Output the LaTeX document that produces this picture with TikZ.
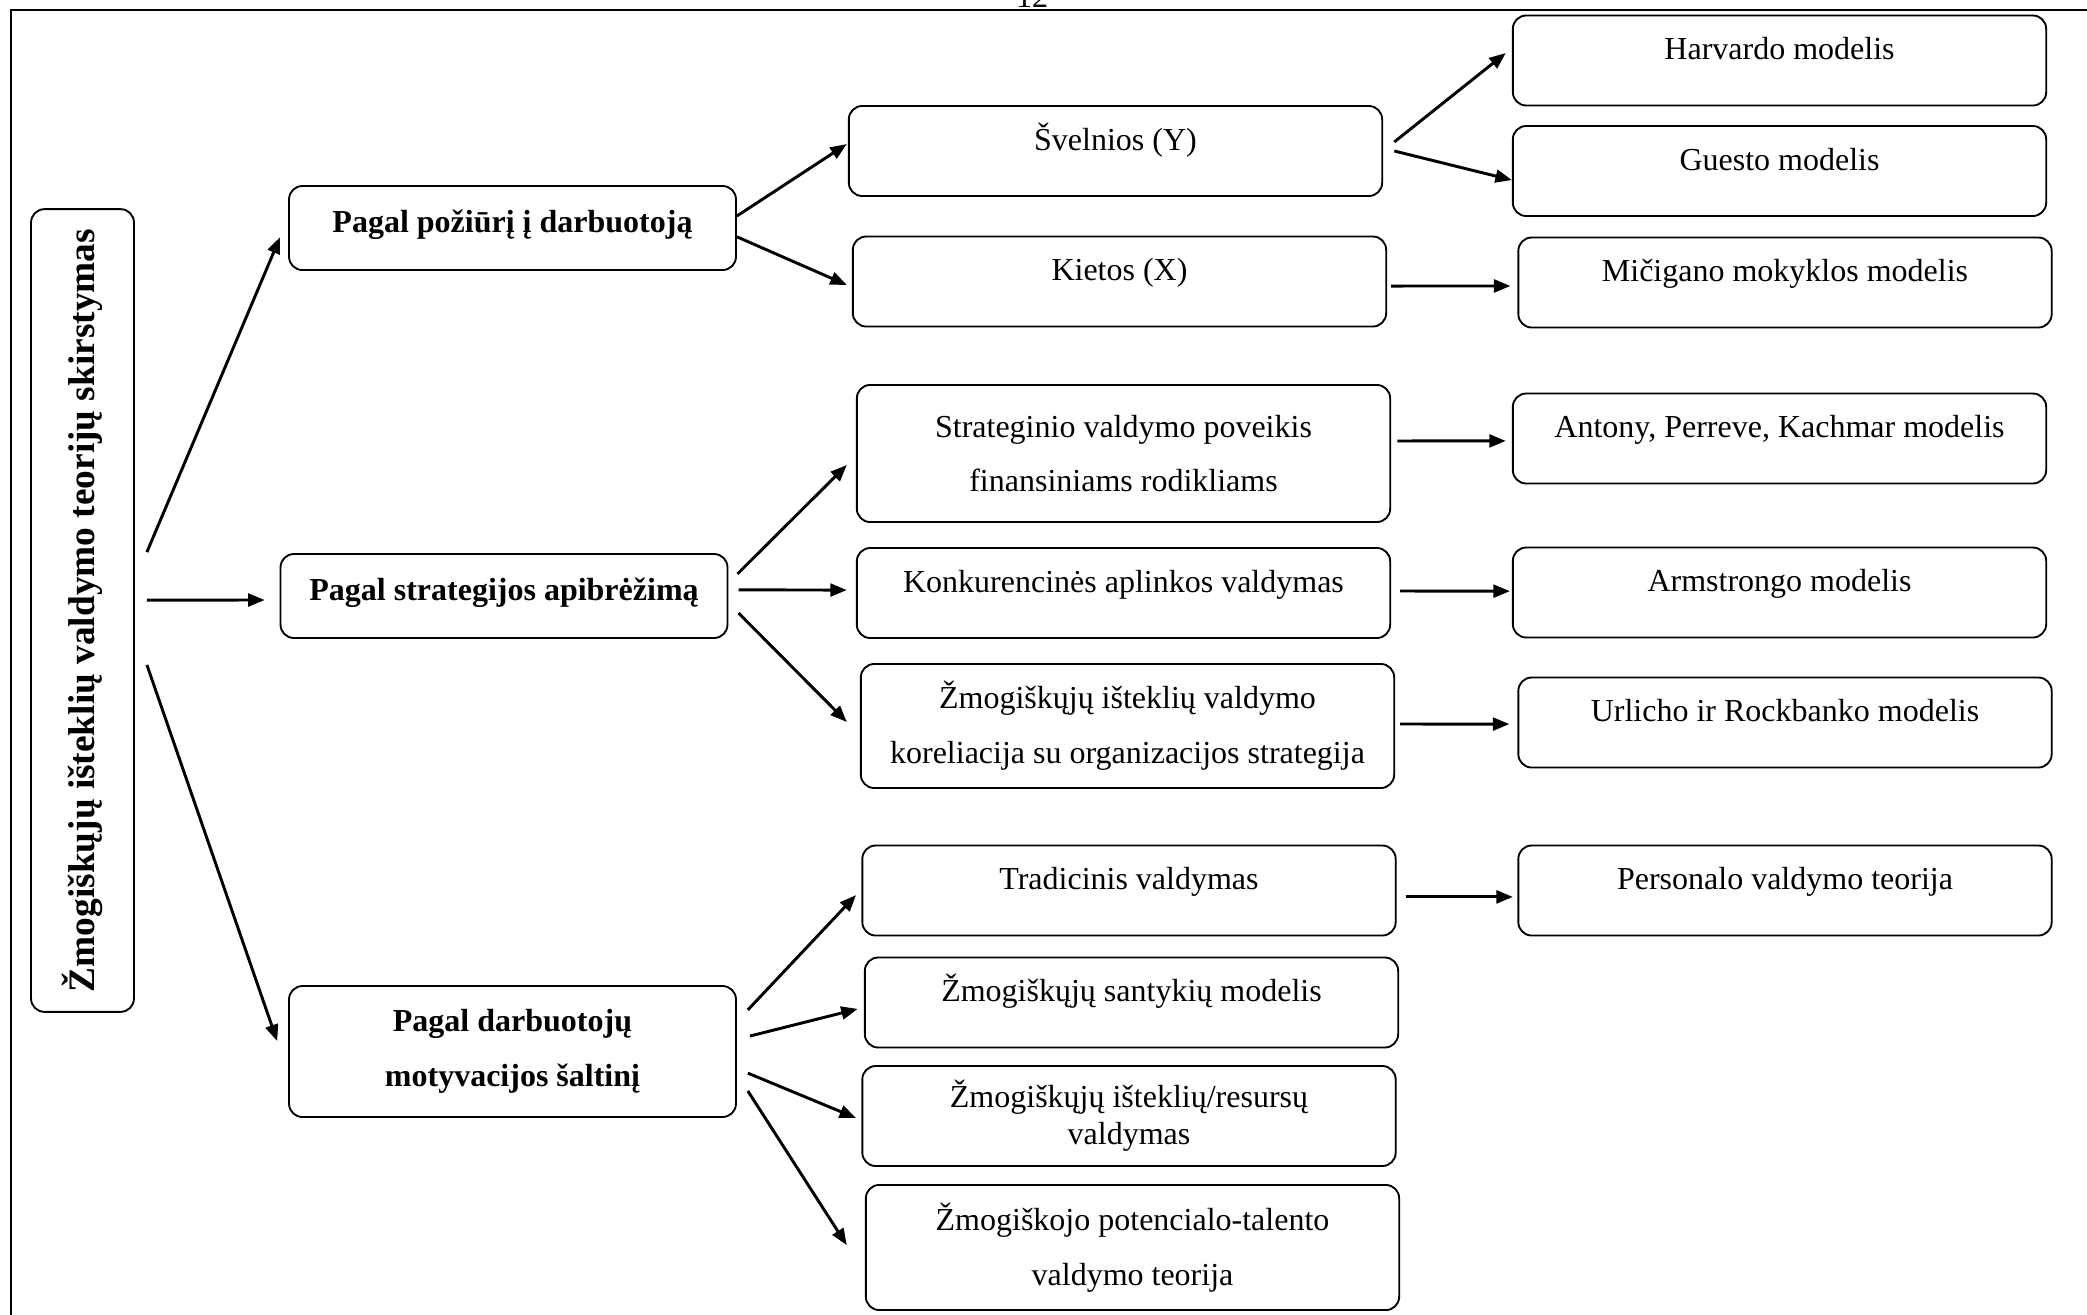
\documentclass[tikz,border=0pt]{standalone}
\usepackage{fontspec}
\setmainfont{Liberation Serif}
\usepackage{tikz}
\usetikzlibrary{arrows.meta}

\begin{document}
\begin{tikzpicture}[
  x=0.375pt, y=-0.375pt,
  box/.style={draw, line width=0.7pt, rounded corners=5pt, align=center, inner sep=2pt,
    font=\fontsize{12}{20.5}\selectfont},
  kind/.style={box, minimum width=167.6pt, font=\fontsize{12}{20.5}\selectfont\bfseries},
  item/.style={box, minimum width=200pt},
  oneline/.style={minimum height=33.75pt, text height=9pt, text depth=9.5pt},
  arrow/.style={-{Triangle[length=6.2pt,width=4.8pt]}, line width=1.1pt}
]
\useasboundingbox (0,0) rectangle (2087,1314);
\draw[line width=1pt] (11,1320) -- (11,10) -- (2095,10);
\node[anchor=base, font=\fontsize{12}{14}\selectfont] (page) at (1032,7) {12};

% root
\node[box, minimum width=38.6pt, minimum height=301pt, font=\fontsize{14}{17}\selectfont\bfseries]
  (root) at (82.5,610.5) {\rotatebox{90}{Žmogiškųjų išteklių valdymo teorijų skirstymas}};

% kinds
\node[kind, minimum height=31.5pt, text height=9pt, text depth=6pt] (poz) at (512.5,228) {Pagal požiūrį į darbuotoją};
\node[kind, minimum height=31.5pt, text height=9pt, text depth=6pt] (strg) at (504,596) {Pagal strategijos apibrėžimą};
\node[kind, minimum height=49.1pt] (darb) at (512.5,1051.5) {Pagal darbuotojų\\motyvacijos šaltinį};

% middle column
\node[item, oneline] (svel) at (1115.5,151) {Švelnios (Y)};
\node[item, oneline] (kiet) at (1119.5,281.5) {Kietos (X)};
\node[item, minimum height=51.4pt] (strat) at (1123.5,453.5) {Strateginio valdymo poveikis\\finansiniams rodikliams};
\node[item, oneline] (konk) at (1123.5,593) {Konkurencinės aplinkos valdymas};
\node[item, minimum height=46.5pt] (kor) at (1127.5,726) {Žmogiškųjų išteklių valdymo\\koreliacija su organizacijos strategija};
\node[item, oneline] (trad) at (1129,890.5) {Tradicinis valdymas};
\node[item, oneline] (sant) at (1131.5,1002.5) {Žmogiškųjų santykių modelis};
\node[item, minimum height=37.5pt, font=\fontsize{12}{14}\selectfont] (ires) at (1129,1116) {Žmogiškųjų išteklių/resursų\\valdymas};
\node[item, minimum height=46.9pt] (pot) at (1132.5,1247.5) {Žmogiškojo potencialo-talento\\valdymo teorija};

% models
\node[item, oneline] (harv) at (1779.5,60.5) {Harvardo modelis};
\node[item, oneline] (guest) at (1779.5,171) {Guesto modelis};
\node[item, oneline] (mic) at (1785,282.5) {Mičigano mokyklos modelis};
\node[item, oneline] (ant) at (1779.5,438.5) {Antony, Perreve, Kachmar modelis};
\node[item, oneline] (arm) at (1779.5,592.5) {Armstrongo modelis};
\node[item, oneline] (url) at (1785,722.5) {Urlicho ir Rockbanko modelis};
\node[item, oneline] (pers) at (1785,890.5) {Personalo valdymo teorija};

\draw[arrow] ([xshift=4.5pt,yshift=21.9pt]root.east) -- ([xshift=-3pt,yshift=-3.4pt]poz.west);
\draw[arrow] ([xshift=4.5pt,yshift=3.9pt]root.east) -- ([xshift=-5.6pt,yshift=-1.5pt]strg.west);
\draw[arrow] ([xshift=4.5pt,yshift=-20.4pt]root.east) -- ([xshift=-4.1pt,yshift=3.9pt]darb.west);

\draw[arrow] ([yshift=4.5pt]poz.east) -- ([xshift=-0.4pt,yshift=2.6pt]svel.west);
\draw[arrow] ([yshift=-3.3pt]poz.east) -- ([xshift=-1.9pt,yshift=-1.3pt]kiet.west);
\draw[arrow] ([xshift=4.2pt,yshift=3.4pt]svel.east) -- ([xshift=-2.3pt,yshift=2.8pt]harv.west);
\draw[arrow] ([xshift=4.2pt]svel.east) -- ([yshift=-3.4pt]guest.west);
\draw[arrow] ([xshift=1.5pt,yshift=-1.7pt]kiet.east) -- ([xshift=-2.6pt,yshift=-1.3pt]mic.west);

\draw[arrow] ([xshift=3.4pt,yshift=8.3pt]strg.east) -- ([xshift=-3.4pt,yshift=-4.3pt]strat.west);
\draw[arrow] ([xshift=3.8pt,yshift=2.3pt]strg.east) -- ([xshift=-3.4pt,yshift=1.1pt]konk.west);
\draw[arrow] ([xshift=3.8pt,yshift=-6.4pt]strg.east) -- ([xshift=-4.9pt,yshift=1.5pt]kor.west);
\draw[arrow] ([xshift=2.3pt,yshift=4.7pt]strat.east) -- ([xshift=-2.3pt,yshift=-0.9pt]ant.west);
\draw[arrow] ([xshift=3.4pt,yshift=0.75pt]konk.east) -- ([xshift=-0.75pt,yshift=0.5pt]arm.west);
\draw[arrow] ([xshift=1.9pt,yshift=0.75pt]kor.east) -- ([xshift=-3pt,yshift=-0.6pt]url.west);

\draw[arrow] ([xshift=3.4pt,yshift=-2.4pt]trad.east) -- ([xshift=-1.7pt,yshift=-2.4pt]pers.west);
\draw[arrow] ([xshift=4.1pt,yshift=15.6pt]darb.east) -- ([xshift=-2pt,yshift=-1.7pt]trad.west);
\draw[arrow] ([xshift=4.9pt,yshift=5.8pt]darb.east) -- ([xshift=-2.3pt,yshift=-2.4pt]sant.west);
\draw[arrow] ([xshift=4.1pt,yshift=-8.1pt]darb.east) -- ([xshift=-2pt,yshift=-0.75pt]ires.west);
\draw[arrow] ([xshift=4.1pt,yshift=-14.8pt]darb.east) -- ([xshift=-6.8pt,yshift=0.9pt]pot.west);
\end{tikzpicture}
\end{document}
